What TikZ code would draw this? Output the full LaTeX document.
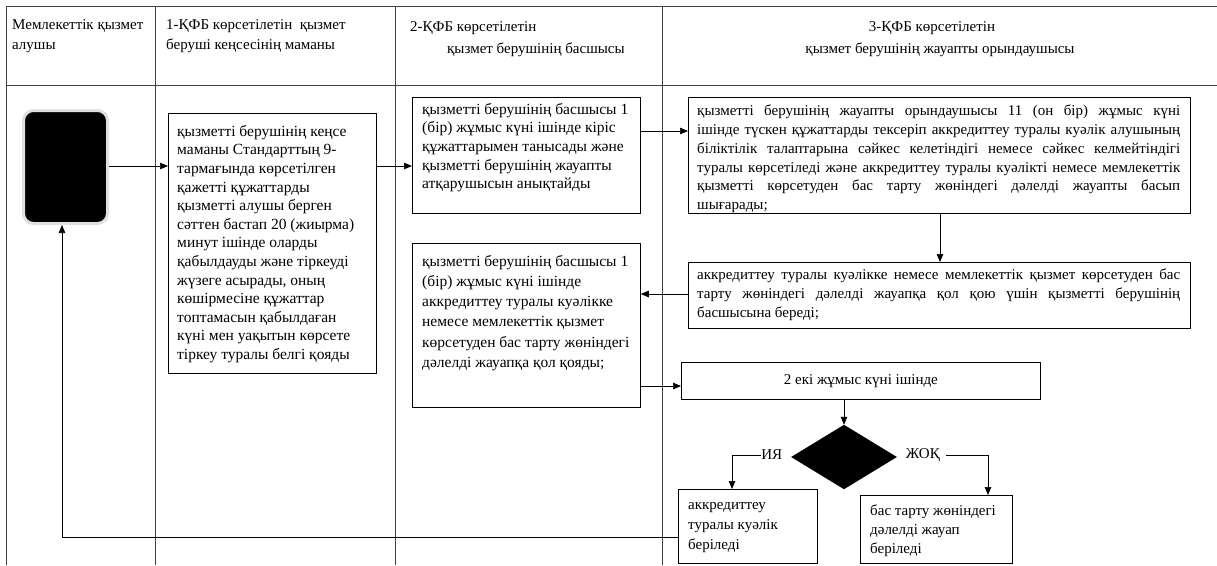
\documentclass[tikz,border=0pt]{standalone}
\usepackage{fontspec}
\setmainfont{Liberation Serif}
\usetikzlibrary{arrows.meta,shapes.geometric,calc}
\newcommand\jl[1]{\makebox[483pt][s]{#1}}
\begin{document}
\begin{tikzpicture}[x=1pt,y=-1pt,
  grid/.style={line width=0.9pt,draw=black!75},
  box/.style={draw,line width=0.8pt,anchor=north west,inner sep=0pt},
  txt/.style={anchor=north west,inner sep=0pt,align=left,font=\fontsize{15.5}{18.6}\selectfont},
  stxt/.style={anchor=north west,inner sep=0pt,align=left,font=\fontsize{15}{18.7}\selectfont},
  hdr/.style={anchor=north west,inner sep=0pt,align=left,font=\fontsize{15}{20.5}\selectfont},
  arr/.style={line width=0.7pt,-{Triangle[length=8pt,width=6.5pt]}},
  ln/.style={line width=0.7pt}]
\useasboundingbox (0,0) rectangle (1217,565);
% table grid
\draw[grid] (6,6) -- (1217,6);
\draw[grid] (6,85) -- (1217,85);
\draw[grid] (6,6) -- (6,565);
\draw[grid] (155,6) -- (155,565);
\draw[grid] (395,6) -- (395,565);
\draw[grid] (662,6) -- (662,565);
% headers
\node[hdr] (h1) at (12,19) {Мемлекеттік қызмет\\алушы};
\node[hdr] (h2) at (166,19) {1-ҚФБ көрсетілетін\ \ қызмет\\беруші кеңсесінің маманы};
\node[hdr] (h3a) at (410,21) {2-ҚФБ көрсетілетін};
\node[hdr] (h3b) at (447,43) {қызмет берушінің басшысы};
\node[hdr,anchor=north] (h4a) at (932,21) {3-ҚФБ көрсетілетін};
\node[hdr,anchor=north] (h4b) at (940,43) {қызмет берушінің жауапты орындаушысы};
% start
\node[draw=black!12,line width=3pt,fill=black,rounded corners=10pt,minimum width=84pt,minimum height=113pt,anchor=north west] (s) at (22,109) {};
% box 1
\node[box,minimum width=208pt,minimum height=260pt] (b1) at (168,113) {};
\node[txt] (t1) at (177,125) {қызметті берушінің кеңсе\\маманы Стандарттың 9-\\тармағында көрсетілген\\қажетті құжаттарды\\қызметті алушы берген\\сәттен бастап 20 (жиырма)\\минут ішінде оларды\\қабылдауды және тіркеуді\\жүзеге асырады, оның\\көшірмесіне құжаттар\\топтамасын қабылдаған\\күні мен уақытын көрсете\\тіркеу туралы белгі қояды};
% box 2
\node[box,minimum width=228pt,minimum height=116pt] (b2) at (412,97) {};
\node[txt] (t2) at (422,103) {қызметті берушінің басшысы 1\\(бір) жұмыс күні ішінде кіріс\\құжаттарымен танысады және\\қызметті берушінің жауапты\\атқарушысын анықтайды};
% box 3
\node[box,minimum width=502pt,minimum height=116pt] (b3) at (688,97) {};
\node[stxt] (t3) at (697,105) {\jl{қызметті берушінің жауапты орындаушысы 11 (он бір) жұмыс күні}\\\jl{ішінде түскен құжаттарды тексеріп аккредиттеу туралы куәлік алушының}\\\jl{біліктілік талаптарына сәйкес келетіндігі немесе сәйкес келмейтіндігі}\\\jl{туралы көрсетіледі және аккредиттеу туралы куәлікті немесе мемлекеттік}\\\jl{қызметті көрсетуден бас тарту жөніндегі дәлелді жауапты басып}\\шығарады;};
% box 4
\node[box,minimum width=502pt,minimum height=66pt] (b4) at (688,262) {};
\node[stxt] (t4) at (697,269) {\jl{аккредиттеу туралы куәлікке немесе мемлекеттік қызмет көрсетуден бас}\\\jl{тарту жөніндегі дәлелді жауапқа қол қою үшін қызметті берушінің}\\басшысына береді;};
% box 5
\node[box,minimum width=228pt,minimum height=164pt] (b5) at (412,243) {};
\node[txt,font=\fontsize{15.5}{20.2}\selectfont] (t5) at (422,255) {қызметті берушінің басшысы 1\\(бір) жұмыс күні ішінде\\аккредиттеу туралы куәлікке\\немесе мемлекеттік қызмет\\көрсетуден бас тарту жөніндегі\\дәлелді жауапқа қол қояды;};
% box 6
\node[box,minimum width=359pt,minimum height=37pt] (b6) at (681,362) {};
\node[stxt,anchor=center] (t6) at (b6.center) {2 екі жұмыс күні ішінде};
% diamond
\node[diamond,fill=black,draw=black,inner sep=0pt,minimum width=105pt,minimum height=64pt] (d) at (844,457) {};
\node[stxt,anchor=east] (ya) at ([xshift=-9pt,yshift=2pt]d.west) {ИЯ};
\node[stxt,anchor=west] (jo) at ([xshift=9pt,yshift=2pt]d.east) {ЖОҚ};
% box 7, 8
\node[box,minimum width=139pt,minimum height=74pt] (b7) at (678,489) {};
\node[stxt,font=\fontsize{15}{20.3}\selectfont] (t7) at (688,502) {аккредиттеу\\туралы куәлік\\беріледі};
\node[box,minimum width=152pt,minimum height=68pt] (b8) at (860,495) {};
\node[stxt] (t8) at (870,505) {бас тарту жөніндегі\\дәлелді жауап\\беріледі};
% connectors
\coordinate (yadown) at (732,489);
\coordinate (jodown) at (988,495);
\coordinate (ret) at (62,537);
\draw[arr] (s.east |- 0,166) coordinate (s1) -- (s1 -| b1.west);
\draw[arr] (b1.east |- 0,166) coordinate (b1o) -- (b1o -| b2.west);
\draw[arr] (b2.east |- 0,131) coordinate (b2o) -- (b2o -| b3.west);
\draw[arr] (b3.south -| 940,0) coordinate (b3o) -- (b3o |- b4.north);
\draw[arr] (b4.west |- 0,294) coordinate (b4o) -- (b4o -| b5.east);
\draw[arr] (b5.east |- 0,386) coordinate (b5o) -- (b5o -| b6.west);
\draw[arr] (b6.south -| d.north) -- (d.north);
\draw[arr] (ya.west) -| (yadown);
\draw[arr] ([xshift=6pt]jo.east) -| (jodown);
\draw[ln] (b7.west |- ret) -- (ret);
\draw[arr] (ret) -- (ret |- s.south);
\end{tikzpicture}
\end{document}
